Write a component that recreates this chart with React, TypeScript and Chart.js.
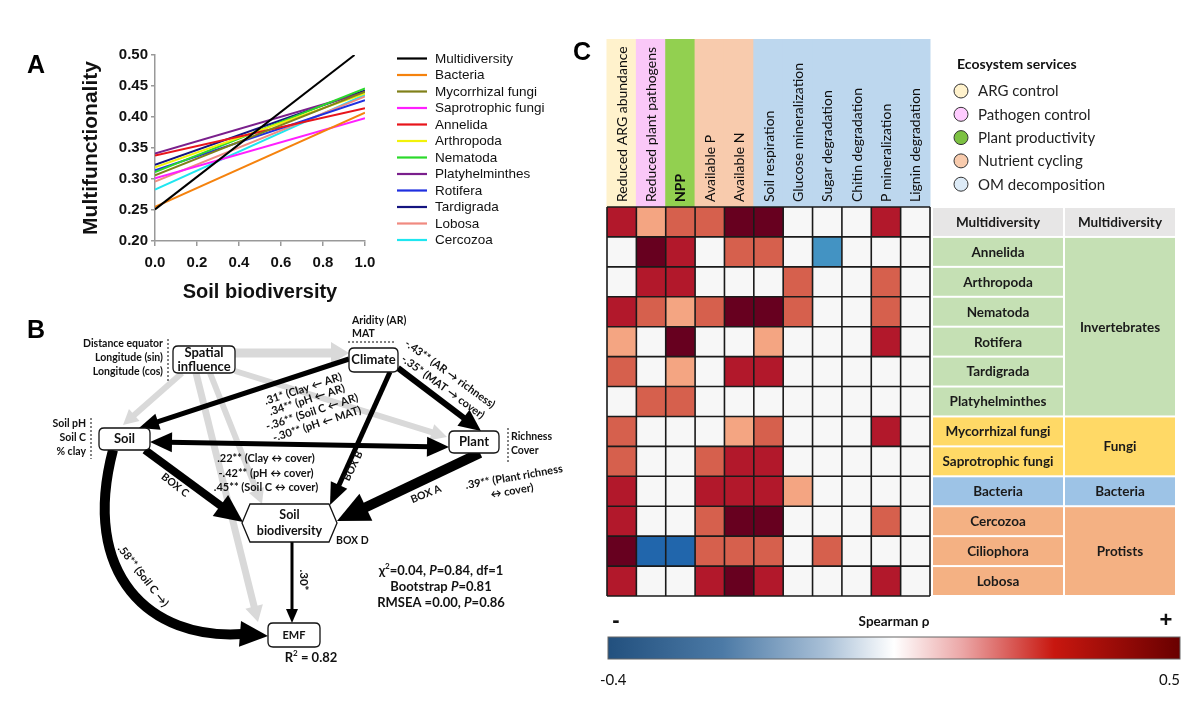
import React, { useEffect, useRef } from 'react';
import { Chart, registerables } from 'chart.js';

Chart.register(...registerables);

// ---------------- Panel A data ----------------
const seriesNames = ['Multidiversity', 'Bacteria', 'Mycorrhizal fungi', 'Saprotrophic fungi', 'Annelida', 'Arthropoda', 'Nematoda', 'Platyhelminthes', 'Rotifera', 'Tardigrada', 'Lobosa', 'Cercozoa'];
const biodiversityStart = [0, 0, 0, 0, 0, 0, 0, 0, 0, 0, 0, 0];
const biodiversityEnd = [0.95, 1, 1, 1, 1, 1, 1, 1, 1, 1, 1, 1];
const multifunctionalityStart = [0.251, 0.255, 0.306, 0.301, 0.338, 0.319, 0.311, 0.341, 0.314, 0.323, 0.296, 0.283];
const multifunctionalityEnd = [0.5, 0.407, 0.441, 0.398, 0.414, 0.438, 0.446, 0.44, 0.427, 0.443, 0.433, 0.436];
const seriesColors = ['#000000', '#F5820D', '#808019', '#FF1FFF', '#E8141B', '#F2F20A', '#2BD92B', '#7A1F8C', '#1F2FE0', '#141480', '#F08A80', '#1FE6F0'];

// ---------------- Panel C data ----------------
const serviceLabels = ['Reduced ARG abundance', 'Reduced plant pathogens', 'NPP', 'Available P', 'Available N', 'Soil respiration', 'Glucose mineralization', 'Sugar degradation', 'Chitin degradation', 'P mineralization', 'Lignin degradation'];
const serviceCategories = ['ARG control', 'Pathogen control', 'Plant productivity', 'Nutrient cycling', 'OM decomposition'];
const serviceCategoryOf = [0, 1, 2, 3, 3, 4, 4, 4, 4, 4, 4];
const taxaLabels = ['Multidiversity', 'Annelida', 'Arthropoda', 'Nematoda', 'Rotifera', 'Tardigrada', 'Platyhelminthes', 'Mycorrhizal fungi', 'Saprotrophic fungi', 'Bacteria', 'Cercozoa', 'Ciliophora', 'Lobosa'];
const taxaGroups = ['Multidiversity', 'Invertebrates', 'Fungi', 'Bacteria', 'Protists'];
const taxaGroupOf = [0, 1, 1, 1, 1, 1, 1, 2, 2, 3, 4, 4, 4];
const rhoMultidiversity = [0.35, 0.15, 0.25, 0.25, 0.45, 0.45, 0, 0, 0, 0.35, 0];
const rhoAnnelida = [0, 0.45, 0.35, 0, 0.25, 0.25, 0, -0.25, 0, 0, 0];
const rhoArthropoda = [0, 0.35, 0.35, 0, 0, 0, 0.25, 0, 0, 0.25, 0];
const rhoNematoda = [0.35, 0.25, 0.15, 0.25, 0.45, 0.45, 0.25, 0, 0, 0.25, 0];
const rhoRotifera = [0.15, 0, 0.45, 0, 0, 0.15, 0, 0, 0, 0.35, 0];
const rhoTardigrada = [0.25, 0, 0.15, 0, 0.35, 0.35, 0, 0, 0, 0, 0];
const rhoPlatyhelminthes = [0, 0.25, 0.25, 0, 0, 0, 0, 0, 0, 0, 0];
const rhoMycorrhizal = [0.25, 0, 0, 0, 0.15, 0.25, 0, 0, 0, 0.35, 0];
const rhoSaprotrophic = [0.25, 0, 0, 0.25, 0.35, 0.35, 0, 0, 0, 0, 0];
const rhoBacteria = [0.35, 0, 0, 0.35, 0.35, 0.35, 0.15, 0, 0, 0, 0];
const rhoCercozoa = [0.35, 0, 0, 0.25, 0.45, 0.45, 0, 0, 0, 0.25, 0];
const rhoCiliophora = [0.45, -0.35, -0.35, 0.25, 0.25, 0.25, 0, 0.25, 0, 0, 0];
const rhoLobosa = [0.35, 0, 0, 0.35, 0.45, 0.35, 0, 0, 0, 0.35, 0];
const rhoRange = ['-0.4', '0.5'];

// ---------------- Styles ----------------
const SERVICE_COLORS = ['#FFF2CC', '#FAC8F8', '#92D050', '#F8CBAD', '#BDD7EE'];
const LEGEND_DOT_COLORS = ['#FFF2CC', '#FFCCFF', '#7CC142', '#F8CBAD', '#DDEBF7'];
const GROUP_COLORS = ['#E7E6E6', '#C5E0B4', '#FFD966', '#9DC3E6', '#F4B183'];
const CAL = "Lato, 'DejaVu Sans', sans-serif";
const ARIAL = "'Liberation Sans', Arial, sans-serif";

function rhoColor(v: number) {
  if (v >= 0.4) return '#67001F';
  if (v >= 0.3) return '#B2182B';
  if (v >= 0.2) return '#D6604D';
  if (v >= 0.1) return '#F4A582';
  if (v <= -0.3) return '#2166AC';
  if (v <= -0.2) return '#4393C3';
  return '#F7F7F7';
}

// ---------------- Panel B diagram layout ----------------
const boxNodes = [
  { lines: ['Spatial', 'influence'], x0: 173, y0: 346, x1: 235, y1: 373 },
  { lines: ['Climate'], x0: 349, y0: 348, x1: 398, y1: 372 },
  { lines: ['Soil'], x0: 99, y0: 428, x1: 150, y1: 450 },
  { lines: ['Plant'], x0: 449, y0: 431, x1: 499, y1: 453 },
  { lines: ['EMF'], x0: 268, y0: 623, x1: 320, y1: 647 },
];
const hexNode = { lines: ['Soil', 'biodiversity'], x0: 242, y0: 504, x1: 337, y1: 542, inset: 8 };
// [x1, y1, x2, y2, width, headLen, headWidth, both]
const greyPaths = [
  [235, 353, 349, 353, 9, 18, 22, 0],
  [182, 373, 123, 425, 6, 15, 16, 0],
  [235, 371, 447, 437, 6, 16, 17, 0],
  [210, 373, 262, 504, 6, 15, 16, 0],
  [196, 373, 258, 622, 7, 16, 18, 0],
];
const blackPaths = [
  [349, 359, 139, 428, 5, 20, 17, 0],
  [398, 368, 481, 431, 6, 22, 20, 0],
  [390, 372, 330, 505, 5, 22, 18, 0],
  [150, 442, 449, 447, 5, 22, 20, 1],
  [145, 450, 243, 522, 8, 28, 26, 0],
  [480, 453, 337, 521, 10, 32, 30, 0],
  [292, 542, 292, 623, 3, 14, 12, 0],
];
const curvedPath = { sx: 113, sy: 450, c1x: 80, c1y: 575, c2x: 150, c2y: 640, bx: 242, by: 634, tx: 268, ty: 636, w: 10, hw: 26 };
// [text, x, y, angle, size, weight, align]
const pathLabels: any[] = [
  ['Distance equator', 163, 344, 0, 10.5, 700, 'right'],
  ['Longitude (sin)', 163, 358, 0, 10.5, 700, 'right'],
  ['Longitude (cos)', 163, 372, 0, 10.5, 700, 'right'],
  ['Soil pH', 86, 424, 0, 10.5, 700, 'right'],
  ['Soil C', 86, 438, 0, 10.5, 700, 'right'],
  ['% clay', 86, 452, 0, 10.5, 700, 'right'],
  ['Aridity (AR)', 352, 321, 0, 10.5, 700, 'left'],
  ['MAT', 352, 334, 0, 10.5, 700, 'left'],
  ['Richness', 511, 437, 0, 10.5, 700, 'left'],
  ['Cover', 511, 451, 0, 10.5, 700, 'left'],
  ['.31* (Clay \u2190 AR)', 303, 389, -18, 11, 700, 'center'],
  ['.34** (pH \u2190 AR)', 307, 400, -18, 11, 700, 'center'],
  ['-.36** (Soil C \u2190 AR)', 312, 412, -18, 11, 700, 'center'],
  ['-.30** (pH \u2190 MAT)', 317, 424, -18, 11, 700, 'center'],
  ['-.43** (AR \u2192 richness)', 450, 374, 36, 11, 700, 'center'],
  ['-.35* (MAT \u2192 cover)', 443, 387, 36, 11, 700, 'center'],
  ['.22** (Clay \u2194 cover)', 266, 458, 0, 11, 700, 'center'],
  ['-.42** (pH \u2194 cover)', 266, 473, 0, 11, 700, 'center'],
  ['.45** (Soil C \u2194 cover)', 266, 487, 0, 11, 700, 'center'],
  ['BOX C', 175, 485, 38, 10.5, 700, 'center'],
  ['BOX B', 353, 466, -64, 10.5, 700, 'center'],
  ['BOX A', 426, 494, -22, 10.5, 700, 'center'],
  ['BOX D', 336, 541, 0, 10.5, 700, 'left'],
  ['.39** (Plant richness', 514, 477, -10, 11, 700, 'center'],
  ['\u2194 cover)', 512, 491, -10, 11, 700, 'center'],
  ['.30*', 304, 580, 90, 11.5, 700, 'center'],
  ['.58** (Soil C \u2192)', 143, 576, 52, 11, 700, 'center'],
];

function rtext(ctx: any, s: string, x: number, y: number, deg: number, font: string, align: string, color = '#111') {
  ctx.save();
  ctx.translate(x, y);
  ctx.rotate((deg * Math.PI) / 180);
  ctx.font = font;
  ctx.fillStyle = color;
  ctx.textAlign = align;
  ctx.textBaseline = 'middle';
  ctx.fillText(s, 0, 0);
  ctx.restore();
}

function richText(ctx: any, parts: any[], cx: number, cy: number, size: number) {
  const fontFor = (p: any) => `${p.it ? 'italic ' : ''}700 ${p.sup ? size * 0.62 : size}px ${CAL}`;
  let total = 0;
  parts.forEach((p) => { ctx.font = fontFor(p); total += ctx.measureText(p.t).width; });
  let x = cx - total / 2;
  ctx.textBaseline = 'middle';
  ctx.textAlign = 'left';
  ctx.fillStyle = '#111';
  parts.forEach((p) => {
    ctx.font = fontFor(p);
    ctx.fillText(p.t, x, p.sup ? cy - size * 0.35 : cy);
    x += ctx.measureText(p.t).width;
  });
}

function head(ctx: any, x: number, y: number, a: number, hl: number, hw: number) {
  ctx.beginPath();
  ctx.moveTo(x, y);
  ctx.lineTo(x - Math.cos(a) * hl + Math.sin(a) * hw / 2, y - Math.sin(a) * hl - Math.cos(a) * hw / 2);
  ctx.lineTo(x - Math.cos(a) * hl - Math.sin(a) * hw / 2, y - Math.sin(a) * hl + Math.cos(a) * hw / 2);
  ctx.closePath();
  ctx.fill();
}

function arrow(ctx: any, x1: number, y1: number, x2: number, y2: number, w: number, hl: number, hw: number, both: boolean, color: string) {
  const a = Math.atan2(y2 - y1, x2 - x1);
  const k = hl * 0.85;
  const sx = both ? x1 + Math.cos(a) * k : x1;
  const sy = both ? y1 + Math.sin(a) * k : y1;
  ctx.strokeStyle = color;
  ctx.fillStyle = color;
  ctx.lineWidth = w;
  ctx.lineCap = 'butt';
  ctx.beginPath();
  ctx.moveTo(sx, sy);
  ctx.lineTo(x2 - Math.cos(a) * k, y2 - Math.sin(a) * k);
  ctx.stroke();
  head(ctx, x2, y2, a, hl, hw);
  if (both) head(ctx, x1, y1, a + Math.PI, hl, hw);
}

function roundRect(ctx: any, x: number, y: number, w: number, h: number, r: number) {
  ctx.beginPath();
  ctx.moveTo(x + r, y);
  ctx.lineTo(x + w - r, y);
  ctx.quadraticCurveTo(x + w, y, x + w, y + r);
  ctx.lineTo(x + w, y + h - r);
  ctx.quadraticCurveTo(x + w, y + h, x + w - r, y + h);
  ctx.lineTo(x + r, y + h);
  ctx.quadraticCurveTo(x, y + h, x, y + h - r);
  ctx.lineTo(x, y + r);
  ctx.quadraticCurveTo(x, y, x + r, y);
  ctx.closePath();
}

const panelAPlugin = {
  id: 'panelA',
  afterDraw(chart: any) {
    const ctx = chart.ctx;
    const ca = chart.chartArea;
    ctx.save();
    ctx.fillStyle = '#000';
    ctx.font = `bold 25px ${ARIAL}`;
    ctx.textAlign = 'left';
    ctx.textBaseline = 'alphabetic';
    ctx.fillText('A', 27, 43);
    const lx = ca.right + 32;
    seriesNames.forEach((n, i) => {
      const y = 28.5 + i * 16.5;
      ctx.fillStyle = seriesColors[i];
      ctx.fillRect(lx, y - 1.1, 30, 2.2);
      ctx.fillStyle = '#111';
      ctx.font = `13.5px ${ARIAL}`;
      ctx.textBaseline = 'middle';
      ctx.fillText(n, lx + 38, y + 0.5);
    });
    ctx.restore();
  },
};

const panelBPlugin = {
  id: 'panelB',
  afterDraw(chart: any) {
    const ctx = chart.ctx;
    const xs = chart.scales.x;
    const ys = chart.scales.y;
    const X = (v: number) => xs.getPixelForValue(v);
    const Y = (v: number) => ys.getPixelForValue(v);
    ctx.save();
    ctx.fillStyle = '#000';
    ctx.font = `bold 25px ${ARIAL}`;
    ctx.textAlign = 'left';
    ctx.textBaseline = 'alphabetic';
    ctx.fillText('B', X(27), Y(338));

    greyPaths.forEach((p) => arrow(ctx, X(p[0]), Y(p[1]), X(p[2]), Y(p[3]), p[4], p[5], p[6], !!p[7], '#D9D9D9'));
    const c = curvedPath;
    ctx.strokeStyle = '#000';
    ctx.fillStyle = '#000';
    ctx.lineWidth = c.w;
    ctx.beginPath();
    ctx.moveTo(X(c.sx), Y(c.sy));
    ctx.bezierCurveTo(X(c.c1x), Y(c.c1y), X(c.c2x), Y(c.c2y), X(c.bx), Y(c.by));
    ctx.stroke();
    const ang = Math.atan2(Y(c.ty) - Y(c.by), X(c.tx) - X(c.bx));
    head(ctx, X(c.tx), Y(c.ty), ang, Math.hypot(X(c.tx) - X(c.bx), Y(c.ty) - Y(c.by)) + 2, c.hw);
    blackPaths.forEach((p) => arrow(ctx, X(p[0]), Y(p[1]), X(p[2]), Y(p[3]), p[4], p[5], p[6], !!p[7], '#000'));

    ctx.setLineDash([2, 2]);
    ctx.strokeStyle = '#333';
    ctx.lineWidth = 1.2;
    [[168, 339, 168, 381], [91, 418, 91, 459], [348, 342, 396, 342], [508, 428, 508, 463]].forEach((l) => {
      ctx.beginPath();
      ctx.moveTo(X(l[0]), Y(l[1]));
      ctx.lineTo(X(l[2]), Y(l[3]));
      ctx.stroke();
    });
    ctx.setLineDash([]);

    boxNodes.forEach((b) => {
      roundRect(ctx, X(b.x0), Y(b.y0), X(b.x1) - X(b.x0), Y(b.y1) - Y(b.y0), 5);
      ctx.fillStyle = '#fff';
      ctx.fill();
      ctx.strokeStyle = '#111';
      ctx.lineWidth = 1.3;
      ctx.stroke();
      const cx = (X(b.x0) + X(b.x1)) / 2;
      const cy = (Y(b.y0) + Y(b.y1)) / 2;
      const n = b.lines.length;
      b.lines.forEach((t, i) => rtext(ctx, t, cx, cy + (i - (n - 1) / 2) * 14, 0, `bold ${t === 'EMF' ? 11 : 13}px ${CAL}`, 'center'));
    });
    const h = hexNode;
    const ym = (Y(h.y0) + Y(h.y1)) / 2;
    ctx.beginPath();
    ctx.moveTo(X(h.x0), ym);
    ctx.lineTo(X(h.x0 + h.inset), Y(h.y0));
    ctx.lineTo(X(h.x1 - h.inset), Y(h.y0));
    ctx.lineTo(X(h.x1), ym);
    ctx.lineTo(X(h.x1 - h.inset), Y(h.y1));
    ctx.lineTo(X(h.x0 + h.inset), Y(h.y1));
    ctx.closePath();
    ctx.fillStyle = '#fff';
    ctx.fill();
    ctx.strokeStyle = '#111';
    ctx.lineWidth = 1.3;
    ctx.stroke();
    h.lines.forEach((t, i) => rtext(ctx, t, (X(h.x0) + X(h.x1)) / 2, ym + (i - 0.5) * 16, 0, `bold 12.5px ${CAL}`, 'center'));

    pathLabels.forEach((l) => rtext(ctx, l[0], X(l[1]), Y(l[2]), l[3], `${l[5]} ${l[4]}px ${CAL}`, l[6]));

    richText(ctx, [{ t: '\u03c7' }, { t: '2', sup: true }, { t: '=0.04, ' }, { t: 'P', it: true }, { t: '=0.84, df=1' }], X(441), Y(571), 13);
    richText(ctx, [{ t: 'Bootstrap ' }, { t: 'P', it: true }, { t: '=0.81' }], X(441), Y(587), 13);
    richText(ctx, [{ t: 'RMSEA =0.00, ' }, { t: 'P', it: true }, { t: '=0.86' }], X(441), Y(603), 13);
    richText(ctx, [{ t: 'R' }, { t: '2', sup: true }, { t: ' = 0.82' }], X(311), Y(658), 13);
    ctx.restore();
  },
};

const HEADER_H = 168;

const panelCPlugin = {
  id: 'panelC',
  beforeDraw(chart: any) {
    const ctx = chart.ctx;
    const xs = chart.scales.x;
    const ca = chart.chartArea;
    const cw = xs.getPixelForValue(1) - xs.getPixelForValue(0);
    ctx.save();
    serviceLabels.forEach((lab, i) => {
      const cx = xs.getPixelForValue(i);
      ctx.fillStyle = SERVICE_COLORS[serviceCategoryOf[i]];
      ctx.fillRect(cx - cw / 2 - 0.5, ca.top - HEADER_H, cw + 1, HEADER_H);
    });
    serviceLabels.forEach((lab, i) => {
      const cx = xs.getPixelForValue(i);
      rtext(ctx, lab, cx + 0.5, ca.top - 5, -90, `${i === 2 ? 'bold ' : ''}14px ${CAL}`, 'left', '#0d0d0d');
    });
    ctx.fillStyle = '#000';
    ctx.font = `bold 25px ${ARIAL}`;
    ctx.textAlign = 'left';
    ctx.textBaseline = 'alphabetic';
    ctx.fillText('C', 8, 30);
    ctx.restore();
  },
  beforeDatasetsDraw(chart: any) {
    const ctx = chart.ctx;
    const xs = chart.scales.x;
    const ys = chart.scales.y;
    const ca = chart.chartArea;
    const cw = xs.getPixelForValue(1) - xs.getPixelForValue(0);
    const ch = ys.getPixelForValue(1) - ys.getPixelForValue(0);
    const meta = chart.getDatasetMeta(0);
    const ds = chart.data.datasets[0].data;
    ctx.save();
    meta.data.forEach((el: any, i: number) => {
      ctx.fillStyle = rhoColor(ds[i].v);
      ctx.fillRect(el.x - cw / 2, el.y - ch / 2, cw, ch);
    });
    ctx.strokeStyle = '#1a1a1a';
    ctx.lineWidth = 1.6;
    for (let k = 0; k <= serviceLabels.length; k++) {
      const x = xs.getPixelForValue(0) - cw / 2 + k * cw;
      ctx.beginPath();
      ctx.moveTo(x, ca.top);
      ctx.lineTo(x, ca.bottom);
      ctx.stroke();
    }
    for (let r = 0; r <= taxaLabels.length; r++) {
      const y = ys.getPixelForValue(r - 0.5);
      ctx.beginPath();
      ctx.moveTo(ca.left, y);
      ctx.lineTo(ca.right, y);
      ctx.stroke();
    }
    ctx.restore();
  },
  afterDraw(chart: any) {
    const ctx = chart.ctx;
    const ys = chart.scales.y;
    const ca = chart.chartArea;
    ctx.save();
    const c1a = ca.right + 3, c1b = ca.right + 133, c2a = ca.right + 135, c2b = ca.right + 245;
    ctx.textAlign = 'center';
    ctx.textBaseline = 'middle';
    taxaLabels.forEach((t, r) => {
      const y0 = ys.getPixelForValue(r - 0.5);
      const y1 = ys.getPixelForValue(r + 0.5);
      ctx.fillStyle = GROUP_COLORS[taxaGroupOf[r]];
      ctx.fillRect(c1a, y0 + 1, c1b - c1a, y1 - y0 - 2);
      ctx.fillStyle = '#1a1a1a';
      ctx.font = `bold 13.5px ${CAL}`;
      ctx.fillText(t, (c1a + c1b) / 2, (y0 + y1) / 2 + 0.5);
    });
    taxaGroups.forEach((g, gi) => {
      const rows = taxaGroupOf.map((v, i) => (v === gi ? i : -1)).filter((i) => i >= 0);
      const y0 = ys.getPixelForValue(rows[0] - 0.5);
      const y1 = ys.getPixelForValue(rows[rows.length - 1] + 0.5);
      ctx.fillStyle = GROUP_COLORS[gi];
      ctx.fillRect(c2a, y0 + 1, c2b - c2a, y1 - y0 - 2);
      ctx.fillStyle = '#1a1a1a';
      ctx.font = `bold 13.5px ${CAL}`;
      ctx.fillText(g, (c2a + c2b) / 2, (y0 + y1) / 2 + 0.5);
    });
    ctx.textAlign = 'left';
    ctx.fillStyle = '#111';
    ctx.font = `bold 14px ${CAL}`;
    ctx.fillText('Ecosystem services', ca.right + 27, ca.top - 143);
    serviceCategories.forEach((s, i) => {
      const y = ca.top - 116 + i * 23.3;
      ctx.beginPath();
      ctx.arc(ca.right + 31, y, 7, 0, Math.PI * 2);
      ctx.fillStyle = LEGEND_DOT_COLORS[i];
      ctx.fill();
      ctx.strokeStyle = '#333';
      ctx.lineWidth = 1;
      ctx.stroke();
      ctx.fillStyle = '#222';
      ctx.font = `15px ${CAL}`;
      ctx.fillText(s, ca.right + 48, y + 0.5);
    });
    const bx0 = ca.left + 1, bx1 = ca.right + 250, by0 = ca.bottom + 41, bh = 22;
    const g = ctx.createLinearGradient(bx0, 0, bx1, 0);
    g.addColorStop(0, '#22507E');
    g.addColorStop(0.2, '#4C7AA6');
    g.addColorStop(0.38, '#A9C0D7');
    g.addColorStop(0.5, '#FFFFFF');
    g.addColorStop(0.62, '#EBA6A6');
    g.addColorStop(0.78, '#C8170F');
    g.addColorStop(1, '#690000');
    ctx.fillStyle = g;
    ctx.fillRect(bx0, by0, bx1 - bx0, bh);
    ctx.strokeStyle = '#666';
    ctx.lineWidth = 1;
    ctx.strokeRect(bx0, by0, bx1 - bx0, bh);
    ctx.fillStyle = '#111';
    ctx.textAlign = 'center';
    ctx.font = `bold 22px ${ARIAL}`;
    ctx.fillText('-', bx0 + 8, ca.bottom + 25);
    ctx.fillText('+', bx1 - 14, ca.bottom + 25);
    ctx.font = `bold 13.5px ${CAL}`;
    ctx.fillText('Spearman \u03c1', (bx0 + bx1) / 2, ca.bottom + 26);
    ctx.font = `15px ${CAL}`;
    ctx.textAlign = 'left';
    ctx.fillText(rhoRange[0], bx0 - 8, ca.bottom + 84);
    ctx.textAlign = 'right';
    ctx.fillText(rhoRange[1], bx1, ca.bottom + 84);
    ctx.restore();
  },
};

export default function App() {
  const aRef = useRef<HTMLCanvasElement>(null);
  const bRef = useRef<HTMLCanvasElement>(null);
  const cRef = useRef<HTMLCanvasElement>(null);

  useEffect(() => {
    document.body.style.margin = '0';
    const tickFontA = { family: ARIAL, weight: 'bold' as const, size: 15 };
    const chartA = new Chart(aRef.current as HTMLCanvasElement, {
      type: 'line',
      data: {
        datasets: seriesNames.map((n, i) => ({
          label: n,
          data: [
            { x: biodiversityStart[i], y: multifunctionalityStart[i] },
            { x: biodiversityEnd[i], y: multifunctionalityEnd[i] },
          ],
          borderColor: seriesColors[i],
          backgroundColor: seriesColors[i],
          borderWidth: 2,
          pointRadius: 0,
          tension: 0,
        })),
      },
      options: {
        responsive: false,
        animation: false,
        events: [],
        layout: { padding: { top: 25, right: 195, left: 0, bottom: 0 } },
        plugins: { legend: { display: false }, tooltip: { enabled: false } },
        scales: {
          x: {
            type: 'linear', min: 0, max: 1,
            ticks: { stepSize: 0.2, callback: (v: any) => Number(v).toFixed(1), font: tickFontA, color: '#111', padding: 8 },
            grid: { display: true, drawOnChartArea: false, drawTicks: true, tickLength: 5, color: '#999', lineWidth: 1.5 },
            border: { display: true, color: '#999', width: 1.5 },
            title: { display: true, text: 'Soil biodiversity', font: { family: ARIAL, weight: 'bold', size: 20 }, color: '#111', padding: { top: 0, bottom: 6 } },
            afterFit: (s: any) => { s.height = 69; },
          },
          y: {
            type: 'linear', min: 0.2, max: 0.5,
            ticks: { stepSize: 0.05, callback: (v: any) => Number(v).toFixed(2), font: tickFontA, color: '#111', padding: 3 },
            grid: { display: true, drawOnChartArea: false, drawTicks: true, tickLength: 4, color: '#999', lineWidth: 1.5 },
            border: { display: true, color: '#999', width: 1.5 },
            title: { display: true, text: 'Multifunctionality', font: { family: ARIAL, weight: 'bold', size: 21 }, color: '#111', padding: { top: 79, bottom: 0 } },
            afterFit: (s: any) => { s.width = 155; },
          },
        },
      } as any,
      plugins: [panelAPlugin],
    });

    const chartB = new Chart(bRef.current as HTMLCanvasElement, {
      type: 'scatter',
      data: {
        datasets: [{
          data: boxNodes.map((b) => ({ x: (b.x0 + b.x1) / 2, y: (b.y0 + b.y1) / 2 })),
          pointRadius: 0,
        }],
      },
      options: {
        responsive: false,
        animation: false,
        events: [],
        layout: { padding: 0 },
        plugins: { legend: { display: false }, tooltip: { enabled: false } },
        scales: {
          x: { type: 'linear', min: 0, max: 580, display: false },
          y: { type: 'linear', min: 310, max: 690, reverse: true, display: false },
        },
      } as any,
      plugins: [panelBPlugin],
    });

    const rhoRows = [rhoMultidiversity, rhoAnnelida, rhoArthropoda, rhoNematoda, rhoRotifera, rhoTardigrada, rhoPlatyhelminthes, rhoMycorrhizal, rhoSaprotrophic, rhoBacteria, rhoCercozoa, rhoCiliophora, rhoLobosa];
    const cells: any[] = [];
    rhoRows.forEach((row, r) => row.forEach((v, c) => cells.push({ x: serviceLabels[c], y: r, v })));

    const chartC = new Chart(cRef.current as HTMLCanvasElement, {
      type: 'scatter',
      data: { datasets: [{ data: cells, pointRadius: 0, showLine: false }] },
      options: {
        responsive: false,
        animation: false,
        events: [],
        layout: { padding: { top: 9, left: 42, right: 270, bottom: 111 } },
        plugins: { legend: { display: false }, tooltip: { enabled: false } },
        scales: {
          x: {
            type: 'category', labels: serviceLabels, position: 'top', offset: true,
            grid: { display: false }, border: { display: false },
            ticks: { display: false },
            afterFit: (s: any) => { s.height = HEADER_H; },
          },
          y: { type: 'linear', min: -0.5, max: 12.5, reverse: true, display: false },
        },
      } as any,
      plugins: [panelCPlugin],
    });

    return () => { chartA.destroy(); chartB.destroy(); chartC.destroy(); };
  }, []);

  return (
    <div style={{ position: 'fixed', left: 0, top: 0, width: 1200, height: 707, background: '#fff', overflow: 'hidden' }}>
      <canvas ref={aRef} width={560} height={280} style={{ position: 'absolute', left: 0, top: 30, width: 560, height: 280 }} />
      <canvas ref={bRef} width={580} height={380} style={{ position: 'absolute', left: 0, top: 310, width: 580, height: 380 }} />
      <canvas ref={cRef} width={635} height={677} style={{ position: 'absolute', left: 565, top: 30, width: 635, height: 677 }} />
    </div>
  );
}
